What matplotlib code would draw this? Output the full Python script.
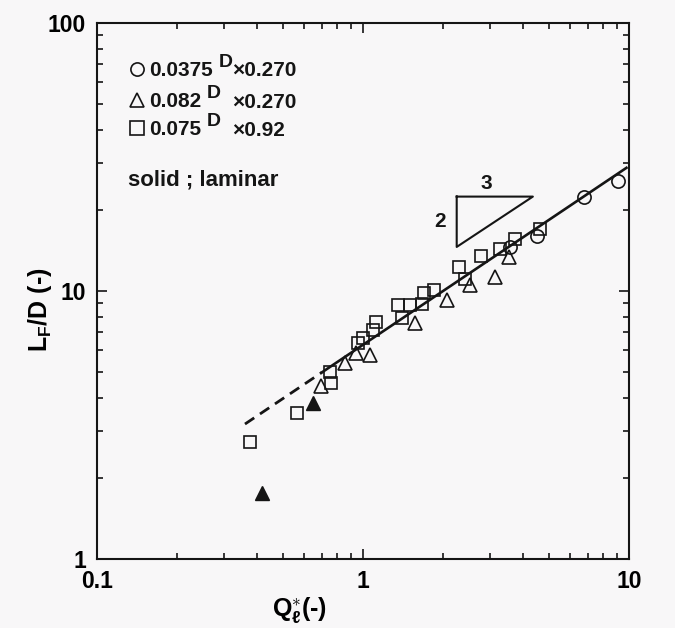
import numpy as np
import matplotlib
matplotlib.use("Agg")
import matplotlib.pyplot as plt

# ---- data ----
circle_x = [3.57, 4.50, 6.77, 9.07]
circle_y = [14.6, 16.1, 22.5, 25.8]

tri_x = [0.694, 0.856, 0.941, 1.06, 1.57, 2.06, 2.52, 3.14, 3.55]
tri_y = [4.42, 5.37, 5.86, 5.77, 7.62, 9.25, 10.5, 11.3, 13.4]

sq_x = [0.376, 0.563, 0.756, 0.751, 0.955, 0.997, 1.087, 1.116, 1.35, 1.40,
        1.50, 1.66, 1.70, 1.85, 2.29, 2.42, 2.77, 3.27, 3.72, 4.63]
sq_y = [2.74, 3.50, 4.53, 5.00, 6.41, 6.66, 7.15, 7.68, 8.87, 7.91,
        8.85, 8.94, 9.86, 10.1, 12.3, 11.1, 13.5, 14.3, 15.6, 17.1]

filled_x = [0.416, 0.647]
filled_y = [1.77, 3.83]

# correlation L_F/D = C * Q^(2/3)
FIT_C = 6.3
FIT_EXP = 2.0 / 3.0
dash_range = (0.36, 0.70)
solid_range = (0.70, 9.78)

# slope triangle (x_left, x_right, y_bottom, y_top)
slope_tri = (2.25, 4.35, 14.6, 22.5)

x_ticks = [0.1, 1, 10]
x_ticklabels = ["0.1", "1", "10"]
y_ticks = [1, 10, 100]
y_ticklabels = ["1", "10", "100"]

FONT = "Liberation Sans"
plt.rcParams["font.family"] = [FONT, "DejaVu Sans"]
plt.rcParams["font.weight"] = "bold"
plt.rcParams["axes.labelweight"] = "bold"
plt.rcParams["mathtext.fontset"] = "custom"
plt.rcParams["mathtext.rm"] = FONT + ":bold"
plt.rcParams["mathtext.it"] = FONT + ":bold"
plt.rcParams["mathtext.bf"] = FONT + ":bold"

INK = "#151515"
BG = "#f8f7f8"

fig = plt.figure(figsize=(6.75, 6.28), dpi=100, facecolor=BG)
ax = fig.add_axes([0.1437, 0.1099, 0.7882, 0.8535], facecolor=BG)
ax.set_xscale("log")
ax.set_yscale("log")
ax.set_xlim(0.1, 10)
ax.set_ylim(1, 100)

# fit line
xd = np.geomspace(*dash_range, 20)
xs = np.geomspace(*solid_range, 50)
ax.plot(xd, FIT_C * xd ** FIT_EXP, color=INK, lw=2.0, ls=(0, (4, 2.5)))
ax.plot(xs, FIT_C * xs ** FIT_EXP, color=INK, lw=1.9)

mk = dict(ls="none", mfc="none", mec=INK, mew=1.2)
ax.plot(sq_x, sq_y, marker="s", ms=8.5, **mk)
ax.plot(tri_x, tri_y, marker="^", ms=10, **mk)
ax.plot(circle_x, circle_y, marker="o", ms=9.5, **mk)
ax.plot(filled_x, filled_y, ls="none", marker="^", ms=9.5, color=INK)

# slope triangle
x0, x1, yb, yt = slope_tri
ax.plot([x0, x1, x0, x0], [yt, yt, yb, yt], color=INK, lw=1.5)
ax.text(2.90, 25.2, "3", fontsize=15, ha="center", va="center", color=INK)
ax.text(1.95, 18.1, "2", fontsize=15, ha="center", va="center", color=INK)

# legend block
rows = [("o", 0.915, "0.0375", 0.228, "×0.270", 0.254),
        ("^", 0.856, "0.082", 0.206, "×0.270", 0.254),
        ("s", 0.804, "0.075", 0.206, "×0.92", 0.254)]
for m, fy, num, dx, tail, tx in rows:
    ax.plot([0.075], [fy], marker=m, ms=9.5 if m != "^" else 10.5, mfc="none",
            mec=INK, mew=1.2, transform=ax.transAxes, clip_on=False)
    ax.text(0.098, fy - 0.003, num, fontsize=15, ha="left", va="center",
            transform=ax.transAxes, color=INK)
    ax.text(dx, fy + 0.012, "D", fontsize=14, ha="left", va="center",
            transform=ax.transAxes, color=INK)
    ax.text(tx, fy - 0.004, tail, fontsize=15, ha="left", va="center",
            transform=ax.transAxes, color=INK)
ax.text(0.058, 0.707, "solid ; laminar", fontsize=16, ha="left",
        va="center", transform=ax.transAxes, color=INK)

# axes styling
for s in ax.spines.values():
    s.set_linewidth(1.5)
    s.set_color(INK)
ax.tick_params(which="both", direction="in", top=True, right=True,
               color=INK, width=1.2)
ax.tick_params(which="major", length=7, labelsize=16.5)
ax.tick_params(which="minor", length=4.5)
ax.tick_params(axis="y", which="major", pad=8)
ax.tick_params(axis="x", which="major", pad=8)
ax.set_xticks(x_ticks, x_ticklabels)
ax.set_yticks(y_ticks, y_ticklabels)
ax.xaxis.set_minor_formatter(matplotlib.ticker.NullFormatter())
ax.yaxis.set_minor_formatter(matplotlib.ticker.NullFormatter())

ax.set_ylabel(r"L$_\mathrm{F}$/D (-)", fontsize=18, va="center")
ax.yaxis.set_label_coords(-0.107, 0.465)
ax.set_xlabel(r"Q$_\mathrm{\ell}^{\ast}$(-)", fontsize=18, va="center")
ax.xaxis.set_label_coords(0.38, -0.095)

fig.savefig("out.png", dpi=100, facecolor=BG)
